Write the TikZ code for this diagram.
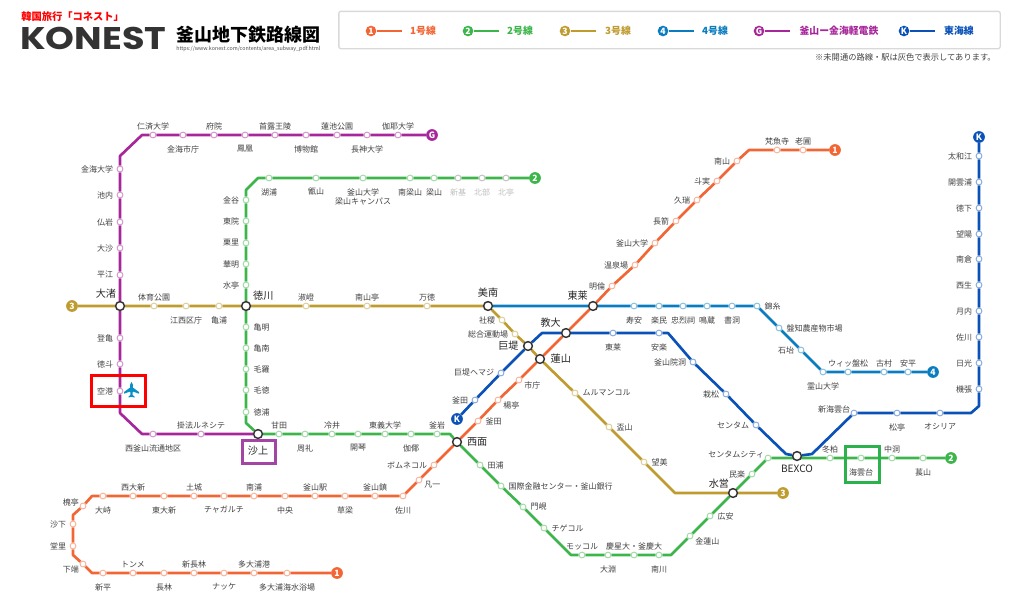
\documentclass[tikz,border=0pt]{standalone}
\usepackage{fontspec}
\setmainfont{Noto Sans CJK JP}
\newfontfamily\logofont{Poppins}
\usetikzlibrary{positioning,backgrounds}

\definecolor{lineone}{HTML}{F26535}
\definecolor{linetwo}{HTML}{3CB54A}
\definecolor{linethree}{HTML}{BF9C2F}
\definecolor{linefour}{HTML}{0A7CC0}
\definecolor{lineg}{HTML}{A7279B}
\definecolor{linek}{HTML}{0B52B8}

\tikzset{
    lbl/.style={inner sep=0pt, align=center, text=black!75, font=\fontsize{6}{7}\selectfont},
    biglbl/.style={lbl, text=black!85, font=\fontsize{7.6}{9}\selectfont},
    labup/.style={above=1pt of #1},
    labdn/.style={below=5pt of #1},
    lablf/.style={left=2.5pt of #1},
    labrt/.style={right=3pt of #1},
    labul/.style={above left=-2pt and 1pt of #1},
    labdl/.style={below left=-1pt and 1pt of #1},
    labdr/.style={below right=-1pt and 2pt of #1},
    sta/.style={circle, inner sep=0pt, minimum size=4.4pt, line width=0.7pt, fill=white},
    hub/.style={circle, inner sep=0pt, minimum size=6.6pt, line width=1.1pt, fill=white, draw=black!80},
    term/.style={circle, inner sep=0pt, minimum size=8.8pt, text=white, font=\fontsize{6.5}{7}\selectfont\bfseries},
    route/.style={line width=2pt, line join=round},
    highlight/.style={line width=2.4pt, inner sep=0pt},
}

\begin{document}
\begin{tikzpicture}[x=0.75pt, y=-0.75pt]
    \useasboundingbox (0,0) rectangle (1024,593);

    % Header
    \node [font=\fontsize{7.7}{9}\selectfont\bfseries, text=red, anchor=west, inner sep=0pt] (tagline) at (21,17) {韓国旅行「コネスト」};
    \node [font=\logofont\fontsize{23.5}{26}\selectfont\bfseries, text=black!80, anchor=west, inner sep=0pt, xscale=1.17, transform shape] (logo) at (20,38.5) {KONEST};
    \node [font=\fontsize{13.5}{15}\selectfont\bfseries, anchor=west, inner sep=0pt] (title) at (176,35) {釜山地下鉄路線図};
    \node [font=\fontsize{4}{5}\selectfont, text=black!70, anchor=west, inner sep=0pt] (url) at (176,49) {https://www.konest.com/contents/area\_subway\_pdf.html};

    % Legend
    \node [draw=black!15, line width=1pt, rounded corners=1.5pt, minimum width=496pt, minimum height=28pt, inner sep=0pt] (legend) at (669.5,30) {};
    \foreach \n/\c/\x/\tx/\m/\t in {
        a/lineone/371/423/1/1号線,
        b/linetwo/468/520/2/2号線,
        c/linethree/565/618/3/3号線,
        d/linefour/663/715/4/4号線,
        e/lineg/759/839/G/釜山ー金海軽電鉄,
        f/linek/904/959/K/東海線}{
        \node [term, fill=\c, minimum size=8pt] (leg\n) at (\x,31) {\m};
        \coordinate (leg\n end) at ([xshift=23pt]leg\n.center);
        \draw [\c, line width=1.6pt] (leg\n) -- (leg\n end);
        \node [font=\fontsize{7.4}{9}\selectfont\bfseries, text=\c] (leg\n txt) at (\tx,31) {\t};
    }
    \node [lbl, font=\fontsize{6.2}{7}\selectfont, anchor=east] (note) at (996,57) {※未開通の路線・駅は灰色で表示してあります。};

    % Interchanges
    \node [hub] (daejeo) at (120,306) {};
    \node [hub] (deokcheon) at (246,306) {};
    \node [hub] (minam) at (488,306) {};
    \node [hub] (dongnae) at (593,306) {};
    \node [hub] (gyodae) at (566,333) {};
    \node [hub] (geoje) at (528,346) {};
    \node [hub] (yeonsan) at (540,359) {};
    \node [hub] (seomyeon) at (457,442) {};
    \node [hub] (sasang) at (258,434) {};
    \node [hub] (suyeong) at (733,493) {};
    \node [hub] (bexco) at (797,456) {};

    \node [biglbl, above left=2.5pt and 0pt of daejeo] (daejeotxt) {大渚};
    \node [biglbl, above right=1.5pt and 2.5pt of deokcheon] (deokcheontxt) {徳川};
    \node [biglbl, above=2.5pt of minam] (minamtxt) {美南};
    \node [biglbl, above left=1.5pt and 1pt of dongnae] (dongnaetxt) {東莱};
    \node [biglbl, above left=1.5pt and 1pt of gyodae] (gyodaetxt) {教大};
    \node [biglbl, left=3pt of geoje] (geojetxt) {巨堤};
    \node [biglbl, right=4pt of yeonsan] (yeonsantxt) {蓮山};
    \node [biglbl, right=3.5pt of seomyeon] (seomyeontxt) {西面};
    \node [biglbl, below=5pt of sasang] (sasangtxt) {沙上};
    \node [biglbl, above left=0.5pt and 0pt of suyeong] (suyeongtxt) {水営};
    \node [biglbl, below=3pt of bexco] (bexcotxt) {BEXCO};

    % Line 1
    \node [term, fill=lineone] (oend) at (835,150) {1};
    \node [term, fill=lineone] (ostart) at (337,573) {1};
    \foreach \n/\x/\y/\p/\t in {
        o1/803/150/labup/老圃, o2/777/150/labup/梵魚寺, o3/737/161/lablf/南山, o4/717/181/lablf/斗実,
        o5/697/200/lablf/久瑞, o6/676/221/lablf/長箭, o7/655/243/lablf/釜山大学, o8/635/265/lablf/温泉場,
        o9/612/286/lablf/明倫, o10/519/380/labdr/市庁, o11/498/400/labdr/楊亭, o12/478/421/labrt/釜田,
        o13/434/465/lablf/ボムネコル, o14/419/480/labdr/凡一, o15/403/496/labdn/佐川, o16/375/496/labup/釜山鎮,
        o17/345/496/labdn/草梁, o18/315/496/labup/釜山駅, o19/285/496/labdn/中央, o20/254/496/labup/南浦,
        o21/224/496/labdn/チャガルチ, o22/194/496/labup/土城, o23/164/496/labdn/東大新, o24/133/496/labup/西大新,
        o25/103/496/labdn/大峙, o26/83/506/labul/槐亭, o27/73/524/lablf/沙下, o28/73/546/lablf/堂里,
        o29/83/564/labdl/下端, o30/103/573/labdn/新平, o31/133/573/labup/トンメ, o32/164/573/labdn/長林,
        o33/194/573/labup/新長林, o34/224/573/labdn/ナッケ, o35/254/573/labup/多大浦港, o36/287/573/labdn/多大浦海水浴場}{
        \node [sta, draw=lineone!50] (\n) at (\x,\y) {};
        \node [lbl, \p=\n] (\n txt) {\t};
    }

    % Line 2
    \node [term, fill=linetwo] (nend) at (535,178) {2};
    \node [term, fill=linetwo] (nstart) at (951,458) {2};
    \foreach \n/\x/\y/\p/\t in {
        n1/269/178/labdn/湖浦, n2/316/178/labdn/甑山, n3/363/178/labdn/釜山大学\\梁山キャンパス, n4/410/178/labdn/南梁山,
        n5/434/178/labdn/梁山, n6/246/200/lablf/金谷, n7/246/221/lablf/東院, n8/246/243/lablf/栗里,
        n9/246/264/lablf/華明, n10/246/285/lablf/水亭, n11/246/327/labrt/亀明, n12/246/348/labrt/亀南,
        n13/246/369/labrt/毛羅, n14/246/390/labrt/毛徳, n15/246/412/labrt/徳浦, n16/279/434/labup/甘田,
        n17/305/434/labdn/周礼, n18/332/434/labup/冷井, n19/358/434/labdn/開琴, n20/385/434/labup/東義大学,
        n21/411/434/labdn/伽倻, n22/437/434/labup/釜岩, n23/480/465/labrt/田浦, n24/501/486/labrt/国際金融センター・釜山銀行,
        n25/523/507/labrt/門峴, n26/544/528/labrt/チゲコル, n27/582/555/labup/モッコル, n28/608/555/labdn/大淵,
        n29/634/555/labup/慶星大・釜慶大, n30/659/555/labdn/南川, n31/690/536/labdr/金蓮山, n32/710/516/labrt/広安,
        n33/752/474/lablf/民楽, n34/768/458/labul/センタムシティ, n35/830/458/labup/冬柏, n36/861/458/labdn/海雲台,
        n37/892/458/labup/中洞, n38/923/458/labdn/萇山}{
        \node [sta, draw=linetwo!50] (\n) at (\x,\y) {};
        \node [lbl, \p=\n] (\n txt) {\t};
    }
    % not yet open
    \foreach \n/\x/\t in {n39/458/新基, n40/482/北部, n41/506/北亭}{
        \node [sta, draw=black!25] (\n) at (\x,178) {};
        \node [lbl, text=black!25, labdn=\n] (\n txt) {\t};
    }

    % Line 3
    \node [term, fill=linethree] (tstart) at (72,306) {3};
    \node [term, fill=linethree] (tend) at (783,493) {3};
    \foreach \n/\x/\y/\p/\t in {
        t1/154/306/labup/体育公園, t2/186/306/labdn/江西区庁, t3/219/306/labdn/亀浦, t4/306/306/labup/淑嶝,
        t5/367/306/labup/南山亭, t6/427/306/labup/万徳, t7/502/320/lablf/社稷, t8/515/334/lablf/総合運動場,
        t9/575/393/labrt/ムルマンコル, t10/609/427/labrt/盃山, t11/644/462/labrt/望美}{
        \node [sta, draw=linethree!50] (\n) at (\x,\y) {};
        \node [lbl, \p=\n] (\n txt) {\t};
    }

    % Line 4
    \node [term, fill=linefour] (fend) at (933,372) {4};
    \foreach \n/\x/\y/\p/\t in {
        f1/634/306/labdn/寿安, f2/659/306/labdn/楽民, f3/683/306/labdn/忠烈祠, f4/707/306/labdn/鳴蔵,
        f5/732/306/labdn/書洞, f6/757/306/labrt/錦糸, f7/779/328/labrt/盤知農産物市場, f8/801/350/lablf/石坮,
        f9/823/372/labdn/霊山大学, f10/848/372/labup/ウィッ盤松, f11/884/372/labup/古村, f12/908/372/labup/安平}{
        \node [sta, draw=linefour!50] (\n) at (\x,\y) {};
        \node [lbl, \p=\n] (\n txt) {\t};
    }

    % Gimhae line
    \node [term, fill=lineg] (gend) at (432,135) {G};
    \foreach \n/\x/\y/\p/\t in {
        g1/398/135/labup/伽耶大学, g2/367/135/labdn/長神大学, g3/337/135/labup/蓮池公園, g4/306/135/labdn/博物館,
        g5/275/135/labup/首露王陵, g6/245/135/labdn/鳳凰, g7/214/135/labup/府院, g8/183/135/labdn/金海市庁,
        g9/153/135/labup/仁済大学, g10/120/169/lablf/金海大学, g11/120/195/lablf/池内, g12/120/222/lablf/仏岩,
        g13/120/248/lablf/大沙, g14/120/275/lablf/平江, g15/120/338/lablf/登亀, g16/120/364/lablf/徳斗,
        g17/120/391/lablf/空港, g18/153/434/labdn/西釜山流通地区, g19/201/434/labup/掛法ルネシテ}{
        \node [sta, draw=lineg!50] (\n) at (\x,\y) {};
        \node [lbl, \p=\n] (\n txt) {\t};
    }

    % Donghae line
    \node [term, fill=linek] (kend) at (979,137) {K};
    \node [term, fill=linek] (kstart) at (457,419) {K};
    \foreach \n/\x/\y/\p/\t in {
        k1/475/400/lablf/釜田, k2/501/373/lablf/巨堤ヘマジ, k3/613/333/labdn/東莱, k4/659/333/labdn/安楽,
        k5/693/362/lablf/釜山院洞, k6/726/394/lablf/栽松, k7/756/425/lablf/センタム, k8/854/413/labul/新海雲台,
        k9/897/413/labdn/松亭, k10/940/413/labdn/オシリア, k11/979/389/lablf/機張, k12/979/363/lablf/日光,
        k13/979/337/lablf/佐川, k14/979/311/lablf/月内, k15/979/285/lablf/西生, k16/979/259/lablf/南倉,
        k17/979/234/lablf/望陽, k18/979/208/lablf/徳下, k19/979/182/lablf/開雲浦, k20/979/156/lablf/太和江}{
        \node [sta, draw=linek!50] (\n) at (\x,\y) {};
        \node [lbl, \p=\n] (\n txt) {\t};
    }

    % Bends
    \foreach \n/\x/\y in {
        ob1/749/150, ob2/92/496, ob3/73/515, ob4/73/555, ob5/92/573,
        nb1/258/178, nb2/246/190, nb3/246/423, nb4/450/434, nb5/571/555, nb6/671/555,
        tb1/675/493,
        gb1/142/135, gb2/120/156, gb3/120/413, gb4/142/434,
        kb1/542/333, kb2/668/333, kb3/786/454, kb4/812/454, kb5/971/413, kb6/979/406}{
        \coordinate (\n) at (\x,\y);
    }

    % Lines
    \begin{pgfonlayer}{background}
        \draw [route, lineg] (gend) -- (g1) -- (g2) -- (g3) -- (g4) -- (g5) -- (g6) -- (g7) -- (g8) -- (g9) -- (gb1) -- (gb2) -- (g10) -- (g11) -- (g12) -- (g13) -- (g14) -- (daejeo) -- (g15) -- (g16) -- (g17) -- (gb3) -- (gb4) -- (g18) -- (g19) -- (sasang);
        \draw [route, linek] (kstart) -- (k1) -- (k2) -- (geoje) -- (kb1) -- (gyodae) -- (k3) -- (k4) -- (kb2) -- (k5) -- (k6) -- (k7) -- (kb3) -- (bexco) -- (kb4) -- (k8) -- (k9) -- (k10) -- (kb5) -- (kb6) -- (k11) -- (k12) -- (k13) -- (k14) -- (k15) -- (k16) -- (k17) -- (k18) -- (k19) -- (k20) -- (kend);
        \draw [route, linefour] (minam) -- (dongnae) -- (f1) -- (f2) -- (f3) -- (f4) -- (f5) -- (f6) -- (f7) -- (f8) -- (f9) -- (f10) -- (f11) -- (f12) -- (fend);
        \draw [route, linethree] (tstart) -- (daejeo) -- (t1) -- (t2) -- (t3) -- (deokcheon) -- (t4) -- (t5) -- (t6) -- (minam) -- (t7) -- (t8) -- (geoje) -- (yeonsan) -- (t9) -- (t10) -- (t11) -- (tb1) -- (suyeong) -- (tend);
        \draw [route, linetwo] (nend) -- (n41) -- (n40) -- (n39) -- (n5) -- (n4) -- (n3) -- (n2) -- (n1) -- (nb1) -- (nb2) -- (n6) -- (n7) -- (n8) -- (n9) -- (n10) -- (deokcheon) -- (n11) -- (n12) -- (n13) -- (n14) -- (n15) -- (nb3) -- (sasang) -- (n16) -- (n17) -- (n18) -- (n19) -- (n20) -- (n21) -- (n22) -- (nb4) -- (seomyeon) -- (n23) -- (n24) -- (n25) -- (n26) -- (nb5) -- (n27) -- (n28) -- (n29) -- (n30) -- (nb6) -- (n31) -- (n32) -- (suyeong) -- (n33) -- (n34) -- (n35) -- (n36) -- (n37) -- (n38) -- (nstart);
        \draw [route, lineone] (oend) -- (o1) -- (o2) -- (ob1) -- (o3) -- (o4) -- (o5) -- (o6) -- (o7) -- (o8) -- (o9) -- (dongnae) -- (gyodae) -- (yeonsan) -- (o10) -- (o11) -- (o12) -- (seomyeon) -- (o13) -- (o14) -- (o15) -- (o16) -- (o17) -- (o18) -- (o19) -- (o20) -- (o21) -- (o22) -- (o23) -- (o24) -- (o25) -- (ob2) -- (o26) -- (ob3) -- (o27) -- (o28) -- (ob4) -- (o29) -- (ob5) -- (o30) -- (o31) -- (o32) -- (o33) -- (o34) -- (o35) -- (o36) -- (ostart);
    \end{pgfonlayer}

    % Highlights
    \node [highlight, draw=red, minimum width=40.5pt, minimum height=23.5pt] (airbox) at (118.5,391) {};
    \node [highlight, draw={rgb,255:red,164;green,69;blue,164}, minimum width=25pt, minimum height=17.5pt] (sasangbox) at (259,452) {};
    \node [highlight, draw={rgb,255:red,43;green,178;blue,76}, minimum width=25.5pt, minimum height=27.5pt] (haeundaebox) at (862.5,464.5) {};

    % Airplane
    \fill [linefour!85!cyan] (131.5,382) -- (132.8,384.5) -- (132.8,387.5) -- (139,392) -- (139,393.7) -- (132.8,391.5) -- (132.5,395) -- (134.5,396.5) -- (134.5,397.5) -- (131.5,396.8) -- (128.5,397.5) -- (128.5,396.5) -- (130.5,395) -- (130.2,391.5) -- (124,393.7) -- (124,392) -- (130.2,387.5) -- (130.2,384.5) -- cycle;
\end{tikzpicture}
\end{document}
